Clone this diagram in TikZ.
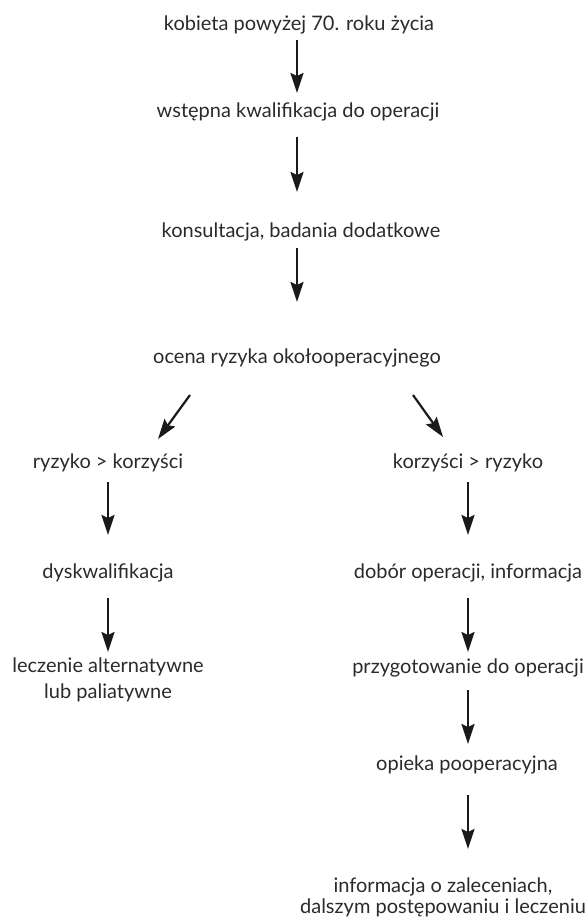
\documentclass[tikz,border=0pt]{standalone}
\usepackage{fontspec}
\setmainfont{Lato}
\usetikzlibrary{arrows.meta,calc}
\definecolor{txt}{HTML}{2A2A2A}
\definecolor{arr}{HTML}{1A1A1A}
\tikzset{
  lbl/.style={inner sep=0pt, text=txt, font=\fontsize{20}{26}\selectfont, align=center, anchor=center},
  con/.style={draw=arr, line width=2.2pt, -{Stealth[length=20pt,width=13pt,inset=3pt]}}
}
\begin{document}
\begin{tikzpicture}[x=1pt,y=-1pt]
\useasboundingbox (0,0) rectangle (588,917);
\node[lbl] (a) at (299,25) {kobieta powyżej 70. roku życia};
\node[lbl] (b) at (298,112) {wstępna kwalifikacja do operacji};
\node[lbl] (c) at (301,232) {konsultacja, badania dodatkowe};
\node[lbl] (d) at (297,358) {ocena ryzyka okołooperacyjnego};
\node[lbl] (e) at (108,463) {ryzyko > korzyści};
\node[lbl] (f) at (468,463) {korzyści > ryzyko};
\node[lbl] (g) at (108,573) {dyskwalifikacja};
\node[lbl] (h) at (108,680) {leczenie alternatywne\\lub paliatywne};
\node[lbl] (i) at (468,573) {dobór operacji, informacja};
\node[lbl] (j) at (468,668) {przygotowanie do operacji};
\node[lbl] (k) at (467,765) {opieka pooperacyjna};
\node[lbl, font=\fontsize{20}{21}\selectfont] (l) at (443,897) {informacja o zaleceniach,\\dalszym postępowaniu i leczeniu};
\draw[con] ($(a)+(-2,15)$) -- ($(b)+(-1,-19)$);
\draw[con] ($(b)+(-1,25)$) -- ($(c)+(-4,-40)$);
\draw[con] ($(c)+(-4,16)$) -- ($(d)+(0,-56)$);
\draw[con] ($(d)+(-107,37)$) -- ($(e)+(50,-24)$);
\draw[con] ($(d)+(116,37)$) -- ($(f)+(-25,-26)$);
\draw[con] ($(e)+(0,19)$) -- ($(g)+(0,-38)$);
\draw[con] ($(g)+(0,25)$) -- ($(h)+(0,-28)$);
\draw[con] ($(f)+(0,19)$) -- ($(i)+(0,-38)$);
\draw[con] ($(i)+(0,25)$) -- ($(j)+(0,-16)$);
\draw[con] ($(j)+(0,22)$) -- ($(k)+(1,-21)$);
\draw[con] ($(k)+(1,30)$) -- ($(l)+(25,-48)$);
\end{tikzpicture}
\end{document}
